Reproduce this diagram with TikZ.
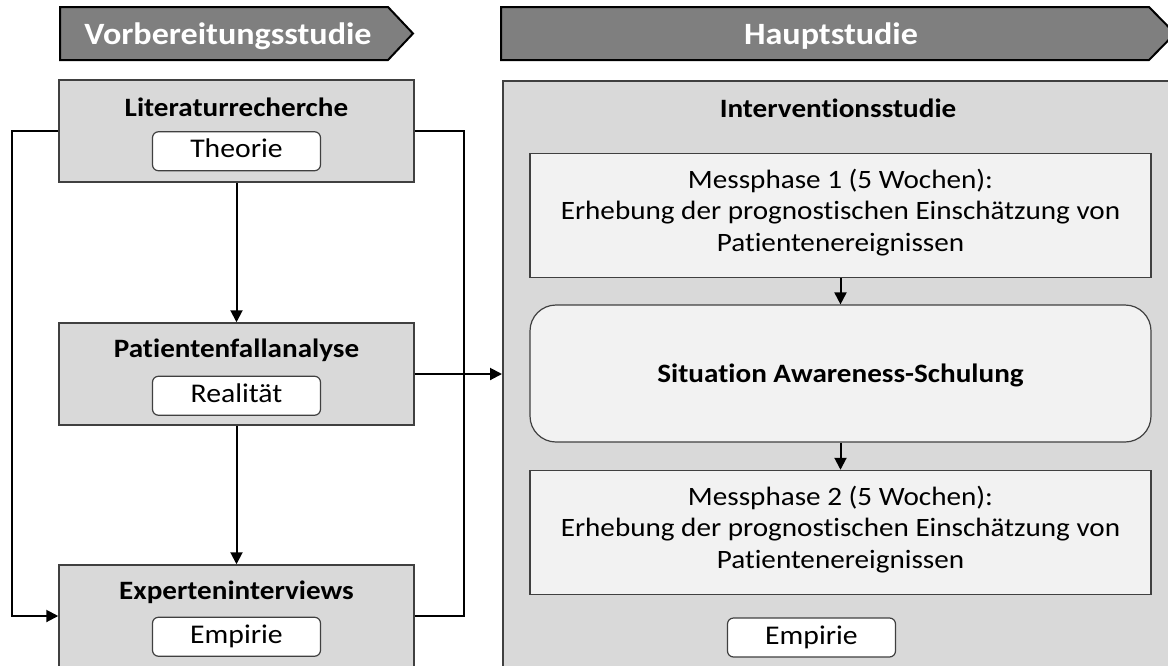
\documentclass[tikz,border=0pt]{standalone}
\usepackage{fontspec}
\setmainfont{Carlito}[Ligatures=NoCommon, FakeStretch=1.1]
\usetikzlibrary{arrows.meta,calc}

\definecolor{bannergray}{HTML}{7F7F7F}
\definecolor{panelgray}{HTML}{D9D9D9}
\definecolor{lightpanel}{HTML}{F2F2F2}
\definecolor{edgegray}{HTML}{404040}

\begin{document}
\begin{tikzpicture}[x=1pt,y=-1pt,
  banner/.style={draw=black, line width=2pt, fill=bannergray, line join=miter},
  bannertext/.style={text=white, font=\fontsize{31}{36}\selectfont\bfseries, inner sep=0pt, anchor=base},
  studybox/.style={draw=edgegray, line width=1.5pt, fill=panelgray,
    minimum width=355pt, minimum height=102pt, inner sep=0pt},
  boxtitle/.style={font=\fontsize{26.5}{30}\selectfont\bfseries, inner sep=0pt, anchor=base},
  tag/.style={draw=edgegray, line width=1.2pt, fill=white, rounded corners=6pt,
    minimum width=168pt, minimum height=39pt, inner sep=0pt,
    text height=19pt, text depth=6pt,
    font=\fontsize{27}{30}\selectfont},
  phase/.style={draw=edgegray, line width=1.5pt, fill=lightpanel,
    minimum width=621pt, minimum height=124pt, inner sep=0pt},
  phasetext/.style={align=center, inner sep=0pt, font=\fontsize{26.5}{31.5}\selectfont},
  training/.style={draw=edgegray, line width=1.2pt, fill=lightpanel, rounded corners=26pt,
    minimum width=621pt, minimum height=137pt, inner sep=0pt},
  flow/.style={line width=2pt, -{Triangle[length=12pt,width=12pt]}},
  link/.style={line width=2pt}
]
\useasboundingbox (0,0) rectangle (1168,665);
\clip (0,0) rectangle (1168,665);
\fill[white] (0,0) rectangle (1168,665);

% phase banners
\draw[banner] (60,7) -- (388,7) -- (413,33.5) -- (388,60) -- (60,60) -- cycle;
\node[bannertext] (prepLabel) at (228,44) {Vorbereitungsstudie};
\draw[banner] (501,7) -- (1149,7) -- (1175,33.5) -- (1149,60) -- (501,60) -- cycle;
\node[bannertext] (mainLabel) at (831,44) {Hauptstudie};

% main study panel
\node[draw=edgegray, line width=1.5pt, fill=panelgray, minimum width=720pt,
  minimum height=640pt, inner sep=0pt, anchor=north west] (inter) at (502,80) {};
\node[boxtitle] (interTitle) at (838,117) {Interventionsstudie};

% preparatory study boxes
\node[studybox] (lit) at (236.5,131) {};
\node[boxtitle] (litTitle) at ($(lit.north)+(0,37)$) {Literaturrecherche};
\node[tag] (litTag) at ($(lit.north)+(0,72)$) {Theorie};

\node[studybox] (pat) at (236.5,374) {};
\node[boxtitle] (patTitle) at ($(pat.north)+(0,35)$) {Patientenfallanalyse};
\node[tag] (patTag) at ($(pat.north)+(0,73.5)$) {Realität};

\node[studybox] (exp) at (236.5,616) {};
\node[boxtitle] (expTitle) at ($(exp.north)+(0,35)$) {Experteninterviews};
\node[tag] (expTag) at ($(exp.north)+(0,72.5)$) {Empirie};

% intervention steps
\node[phase] (m1) at (840.5,215.5) {};
\node[phasetext] (m1text) at ($(m1.center)+(0,-3)$) {Messphase 1 (5 Wochen):\\Erhebung der prognostischen Einschätzung von\\Patientenereignissen};
\node[training] (sa) at (840.5,373.5) {};
\node[boxtitle] (saText) at (840.5,382) {Situation Awareness-Schulung};
\node[phase] (m2) at (840.5,532.5) {};
\node[phasetext] (m2text) at ($(m2.center)+(0,-3)$) {Messphase 2 (5 Wochen):\\Erhebung der prognostischen Einschätzung von\\Patientenereignissen};
\node[tag] (mainTag) at (811.5,637.5) {Empirie};

% connectors
\draw[flow] (lit.south) -- (pat.north);
\draw[flow] (pat.south) -- (exp.north);
\draw[flow] (lit.west) -- ++(-46,0) |- (exp.west);
\draw[link] (lit.east) -- ++(49,0) |- (exp.east);
\draw[flow] (pat.east) -- (pat.east -| inter.west);
\draw[flow] (m1.south) -- (sa.north);
\draw[flow] (sa.south) -- (m2.north);
\end{tikzpicture}
\end{document}
